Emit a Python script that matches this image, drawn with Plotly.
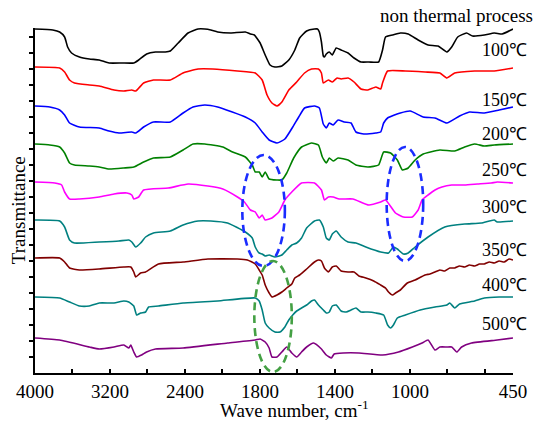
import plotly.graph_objects as go

# FTIR spectra of samples after different heat treatments (stacked, arbitrary units)

wn_nt = [4000, 3810, 3737, 3684, 3652, 3610, 3526, 3420, 3315, 3210, 3073, 2946, 2894, 2809, 2714, 2609, 2556, 2472,
         2367, 2261, 2188, 2124, 2051, 1957, 1878, 1851, 1830, 1799, 1772, 1746, 1720, 1683, 1646, 1614, 1588, 1551,
         1509, 1493, 1483, 1472, 1462, 1456, 1446, 1430, 1414, 1393, 1367, 1330, 1298, 1261, 1219, 1167, 1146, 1130,
         1093, 1051, 1009, 956, 903, 850, 803, 777, 745, 698, 666, 603, 550, 508, 450]
tr_nt = [344, 343, 341, 336, 326, 320, 316, 314, 313, 310, 310, 310, 313, 319, 321, 321, 322, 330,
         340, 344, 344, 343, 341, 340, 341, 339, 338, 330, 318, 308, 306, 307, 313, 323, 335, 342,
         344, 344, 341, 331, 317, 316, 319, 321, 318, 325, 323, 320, 315, 311, 311, 311, 323, 336,
         338, 340, 339, 333, 328, 327, 321, 326, 336, 340, 337, 338, 340, 339, 344]

wn_100 = [4000, 3737, 3684, 3631, 3579, 3420, 3315, 3157, 3052, 2967, 2925, 2841, 2736, 2556, 2420, 2261, 2103, 1920,
          1825, 1788, 1762, 1736, 1709, 1683, 1646, 1604, 1562, 1525, 1488, 1472, 1462, 1435, 1414, 1388, 1367, 1330,
          1298, 1261, 1224, 1182, 1156, 1146, 1119, 1024, 919, 840, 803, 761, 655, 550, 450]
tr_100 = [306, 305, 301, 293, 290, 288, 287, 283, 282, 283, 282, 290, 293, 293, 300, 304, 304, 302,
          300, 293, 278, 270, 267, 271, 283, 291, 300, 304, 304, 300, 290, 293, 291, 295, 294, 295,
          291, 284, 283, 286, 284, 290, 302, 302, 301, 300, 295, 300, 302, 302, 305]

wn_150 = [4000, 3842, 3737, 3684, 3631, 3526, 3315, 3210, 3104, 2967, 2925, 2841, 2736, 2556, 2420, 2314, 2188, 2051,
          1878, 1825, 1788, 1751, 1709, 1667, 1625, 1593, 1562, 1509, 1483, 1462, 1446, 1430, 1409, 1383, 1351, 1314,
          1288, 1246, 1182, 1156, 1140, 1119, 1051, 998, 929, 866, 803, 735, 682, 603, 524, 450]
tr_150 = [267, 266, 263, 258, 250, 246, 245, 242, 240, 241, 240, 246, 251, 251, 260, 266, 268, 266,
          256, 250, 241, 233, 230, 234, 246, 256, 265, 267, 265, 249, 245, 250, 248, 253, 251, 250,
          241, 239, 240, 241, 250, 255, 260, 262, 256, 255, 250, 257, 261, 260, 263, 266]

wn_200 = [4000, 3842, 3737, 3684, 3631, 3579, 3420, 3315, 3210, 3052, 2946, 2841, 2736, 2556, 2420, 2314, 2188, 1998,
          1946, 1878, 1841, 1825, 1804, 1788, 1772, 1751, 1709, 1683, 1657, 1620, 1578, 1525, 1488, 1467, 1446, 1430,
          1409, 1383, 1330, 1288, 1224, 1167, 1140, 1103, 1067, 1040, 1009, 972, 929, 840, 761, 708, 655, 603, 550, 450]
tr_200 = [229, 228, 226, 220, 210, 208, 207, 206, 204, 205, 206, 211, 215, 216, 223, 229, 229, 226,
          221, 216, 208, 201, 201, 196, 201, 194, 193, 193, 200, 215, 226, 230, 228, 216, 210, 215,
          212, 215, 213, 208, 206, 208, 221, 220, 213, 203, 205, 213, 219, 223, 222, 226, 229, 227, 228, 229]

wn_250 = [4000, 3789, 3716, 3684, 3631, 3526, 3315, 3157, 3020, 2967, 2946, 2894, 2841, 2578, 2367, 2156, 1998, 1920,
          1883, 1851, 1825, 1804, 1788, 1772, 1736, 1699, 1667, 1630, 1578, 1509, 1472, 1456, 1435, 1409, 1377, 1304,
          1219, 1156, 1130, 1077, 1035, 987, 956, 935, 903, 866, 829, 777, 708, 640, 566, 534, 450]
tr_250 = [191, 190, 188, 181, 174, 174, 176, 179, 180, 178, 174, 176, 183, 185, 189, 187, 184, 176,
          171, 163, 161, 155, 158, 153, 155, 161, 173, 181, 190, 190, 183, 173, 176, 176, 174, 174,
          168, 171, 173, 160, 156, 156, 163, 173, 178, 183, 186, 188, 188, 189, 190, 191, 190]

wn_300 = [4000, 3737, 3684, 3631, 3579, 3315, 3104, 2999, 2967, 2925, 2873, 2820, 2736, 2556, 2420, 2261, 2124, 1973,
          1878, 1841, 1825, 1804, 1788, 1772, 1751, 1720, 1683, 1657, 1630, 1604, 1578, 1551, 1509, 1483, 1462, 1446,
          1430, 1414, 1393, 1367, 1330, 1288, 1235, 1156, 1114, 1088, 1067, 1035, 1009, 972, 903, 814, 708, 619, 550,
          534, 450]
tr_300 = [153, 152, 146, 133, 130, 131, 132, 133, 131, 126, 130, 136, 140, 142, 148, 152, 152, 150,
          141, 135, 126, 120, 119, 117, 118, 116, 118, 123, 128, 130, 135, 145, 152, 153, 146, 135,
          133, 139, 142, 136, 131, 130, 126, 121, 120, 126, 124, 119, 120, 126, 136, 146, 149, 150, 153,
          151, 152]

wn_350 = [4000, 3737, 3684, 3631, 3526, 3315, 3052, 2978, 2946, 2925, 2873, 2820, 2683, 2420, 2156, 1920, 1867, 1825,
          1804, 1788, 1772, 1751, 1736, 1709, 1683, 1657, 1630, 1614, 1588, 1551, 1509, 1488, 1472, 1456, 1435, 1414,
          1393, 1367, 1330, 1298, 1272, 1235, 1193, 1156, 1130, 1114, 1093, 1077, 1051, 1014, 972, 919, 893, 866, 840,
          814, 787, 761, 735, 708, 682, 655, 629, 603, 576, 550, 524, 497, 471, 450]
tr_350 = [115, 115, 111, 105, 103, 104, 106, 106, 101, 96, 100, 101, 109, 111, 114, 114, 113, 109,
          103, 98, 88, 80, 76, 78, 81, 85, 89, 95, 98, 104, 111, 113, 112, 105, 101, 106,
          107, 102, 101, 101, 97, 95, 92, 88, 85, 81, 78, 80, 83, 90, 93, 98, 99, 101, 103,
          102, 105, 105, 107, 106, 108, 107, 109, 109, 111, 110, 112, 111, 114, 113]

wn_400 = [4000, 3737, 3631, 3526, 3420, 3315, 3157, 3052, 2999, 2946, 2915, 2873, 2820, 2788, 2683, 2420, 2051, 1825,
          1804, 1788, 1772, 1751, 1720, 1693, 1667, 1646, 1625, 1604, 1578, 1551, 1525, 1509, 1488, 1462, 1446, 1430,
          1414, 1393, 1367, 1340, 1314, 1288, 1261, 1224, 1182, 1140, 1119, 1103, 1088, 1067, 1024, 945, 866, 803,
          787, 761, 735, 655, 603, 524, 450]
tr_400 = [76, 75, 71, 67, 67, 70, 70, 72, 71, 67, 58, 60, 61, 66, 67, 70, 72, 75,
          72, 63, 50, 45, 41, 41, 46, 53, 58, 62, 65, 68, 72, 73, 68, 63, 60, 61,
          67, 68, 62, 61, 63, 65, 61, 61, 60, 58, 48, 45, 48, 55, 58, 63, 66, 68,
          70, 65, 69, 72, 75, 76, 76]

wn_500 = [4000, 3737, 3420, 3315, 3157, 3052, 2999, 2978, 2946, 2915, 2862, 2809, 2714, 2420, 1973, 1825, 1799, 1772,
          1751, 1736, 1709, 1683, 1657, 1630, 1604, 1578, 1551, 1514, 1472, 1446, 1419, 1404, 1356, 1272, 1146, 1061,
          987, 935, 903, 866, 840, 803, 777, 750, 724, 671, 534, 450]
tr_500 = [35, 33, 26, 24, 26, 28, 25, 28, 21, 16, 18, 21, 24, 25, 30, 33, 34, 31,
          25, 16, 16, 21, 26, 20, 16, 21, 26, 30, 24, 18, 15, 19, 20, 20, 18, 21,
          26, 30, 33, 23, 26, 26, 26, 21, 26, 30, 33, 35]

series_names = ["non thermal process", "100℃", "150℃", "200℃", "250℃", "300℃", "350℃", "400℃", "500℃"]
series_wn = [wn_nt, wn_100, wn_150, wn_200, wn_250, wn_300, wn_350, wn_400, wn_500]
series_tr = [tr_nt, tr_100, tr_150, tr_200, tr_250, tr_300, tr_350, tr_400, tr_500]
series_colors = ["#000000", "#ff0000", "#0000ff", "#008000", "#ff00ff", "#008080", "#800000", "#008080", "#800080"]

major_wn = [4000, 3200, 2400, 1800, 1400, 1000, 450]
major_txt = ["4000", "3200", "2400", "1800", "1400", "1000", "450"]
minor_wn = [3600, 2800, 2000, 1600, 1200, 800, 600]

# highlighted bands (wavenumber span, transmittance span, colour)
bands = [
    (1894, 1667, 107, 218, "#1a2cff"),
    (1124, 929, 112, 226, "#1a2cff"),
    (1830, 1630, 1, 112, "#44a044"),
]


def xpos(w):
    """Split wavenumber axis: 4000-2000 cm-1 at half scale, below 2000 at full scale."""
    return (4000 - w) / 2 if w >= 2000 else 3000 - w


FONT = "Times New Roman"
W, H = 539, 426
M = dict(l=35, r=20, t=28, b=53)
PW = W - M["l"] - M["r"]
PH = H - M["t"] - M["b"]


def px_to_paper(px, py):
    return (px - M["l"]) / PW, (H - M["b"] - py) / PH


fig = go.Figure()
for name, wn, tr, color in zip(series_names, series_wn, series_tr, series_colors):
    fig.add_trace(go.Scatter(x=[xpos(w) for w in wn], y=tr, mode="lines", name=name,
                             line=dict(color=color, width=1.6, shape="spline", smoothing=0.45),
                             showlegend=False))

for w0, w1, t0, t1, c in bands:
    fig.add_shape(type="circle", xref="x", yref="y", x0=xpos(w0), x1=xpos(w1), y0=t0, y1=t1,
                  line=dict(color=c, width=2.6, dash="8px,5px"), layer="above")

# curve labels: right edge and vertical centre in pixels, font size
label_pos = [(541, 16, 19), (535, 50, 18), (535, 100, 18), (535, 134, 18), (535, 170, 18),
             (535, 207, 18), (535, 250, 18), (535, 285, 18), (535, 324, 18)]
annotations = []
for name, (lx, ly, fs) in zip(series_names, label_pos):
    ax, ay = px_to_paper(lx, ly)
    annotations.append(dict(text=name, xref="paper", yref="paper", x=ax, y=ay, xanchor="right",
                            yanchor="middle", showarrow=False, font=dict(family=FONT, size=fs, color="black")))
tx, ty = px_to_paper(298, 409)
annotations.append(dict(text="Wave number, cm<sup>-1</sup>", xref="paper", yref="paper", x=tx, y=ty,
                        xanchor="center", yanchor="middle", showarrow=False,
                        font=dict(family=FONT, size=19, color="black")))
vx, vy = px_to_paper(18, 210)
annotations.append(dict(text="Transmittance", xref="paper", yref="paper", x=vx, y=vy,
                        xanchor="center", yanchor="middle", textangle=-90, showarrow=False,
                        font=dict(family=FONT, size=19, color="black")))

fig.update_layout(
    width=W, height=H,
    margin=M,
    font=dict(family=FONT, size=19, color="black"),
    paper_bgcolor="white", plot_bgcolor="white",
    annotations=annotations,
    xaxis=dict(range=[0, 2550], tickmode="array", tickvals=[xpos(w) for w in major_wn], ticktext=major_txt,
               ticks="inside", ticklen=4, tickwidth=1.5, tickcolor="black",
               minor=dict(tickmode="array", tickvals=[xpos(w) for w in minor_wn], ticks="inside",
                          ticklen=4, tickwidth=1.5, tickcolor="black", showgrid=False),
               showline=True, linecolor="black", linewidth=2, showgrid=False, zeroline=False,
               tickfont=dict(family=FONT, size=19, color="black")),
    yaxis=dict(range=[0, 345], tickvals=list(range(16, 345, 16)), showticklabels=False,
               ticks="outside", ticklen=4, tickwidth=1.5, tickcolor="black",
               showline=True, linecolor="black", linewidth=2, showgrid=False, zeroline=False),
)

fig.write_html("out.html")
